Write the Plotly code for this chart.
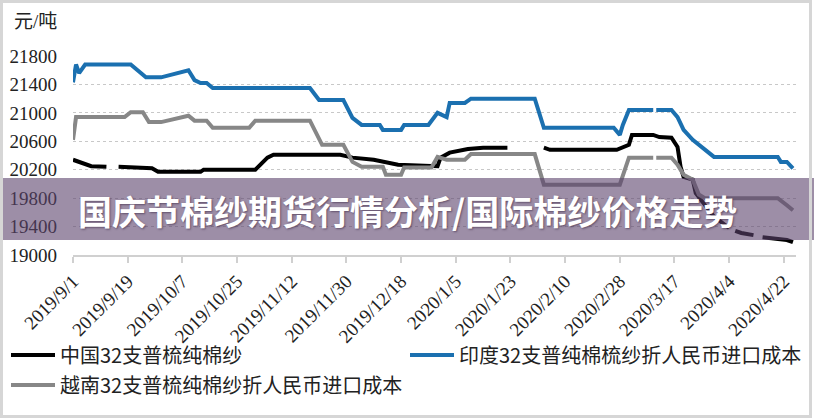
import plotly.graph_objects as go

# ---------------- data ----------------
china_dates = ["2019-09-01","2019-09-07","2019-09-12","2019-09-14","2019-09-16","2019-09-27","2019-09-29",
               "2019-10-13","2019-10-14","2019-10-31","2019-11-04","2019-11-06","2019-11-28","2019-12-02",
               "2019-12-09","2019-12-13","2019-12-17","2019-12-30","2019-12-31","2020-01-03","2020-01-09",
               "2020-01-14","2020-01-22","2020-01-27","2020-02-03","2020-02-05","2020-02-27","2020-03-02",
               "2020-03-03","2020-03-10","2020-03-12","2020-03-16","2020-03-18","2020-03-19","2020-03-20",
               "2020-03-23","2020-03-24","2020-03-30","2020-04-04","2020-04-05","2020-04-06","2020-04-08",
               "2020-04-12","2020-04-13","2020-04-15","2020-04-23","2020-04-25"]
china_values = [20340,20250,20240,None,20240,20220,20170,
                20170,20200,20200,20370,20410,20410,20370,
                20340,20300,20270,20250,20370,20440,20490,
                20510,20510,None,20510,20480,20480,20550,
                20690,20690,20660,20650,20520,20240,20100,
                20060,19870,19540,19380,None,19340,19310,
                19280,None,19250,19210,19180]

india_dates = ["2019-09-01","2019-09-02","2019-09-03","2019-09-05","2019-09-20","2019-09-23","2019-09-25",
               "2019-09-30","2019-10-08","2019-10-09","2019-10-11","2019-10-13","2019-10-15","2019-10-17",
               "2019-11-18","2019-11-20","2019-11-21","2019-11-29","2019-12-02","2019-12-05","2019-12-11",
               "2019-12-12","2019-12-18","2019-12-19","2019-12-27","2019-12-30","2020-01-02","2020-01-03",
               "2020-01-08","2020-01-10","2020-01-31","2020-02-03","2020-02-26","2020-02-28","2020-02-29",
               "2020-03-02","2020-03-10","2020-03-10 12:00","2020-03-11","2020-03-16","2020-03-18",
               "2020-03-20","2020-03-23","2020-03-25","2020-03-28","2020-03-30","2020-04-20","2020-04-21",
               "2020-04-23","2020-04-25"]
india_values = [21430,21680,21560,21680,21680,21580,21500,
                21500,21600,21600,21460,21420,21420,21350,
                21350,21250,21180,21180,20930,20830,20830,
                20760,20760,20830,20830,21000,20940,21140,
                21140,21200,21200,20790,20790,20690,20830,
                21040,21040,None,21040,21040,20940,
                20760,20620,20550,20450,20380,20380,20310,
                20310,20220]

vietnam_dates = ["2019-09-01","2019-09-02","2019-09-18","2019-09-20","2019-09-24","2019-09-26","2019-09-30",
                 "2019-10-09","2019-10-11","2019-10-15","2019-10-17","2019-10-29","2019-10-31","2019-11-18",
                 "2019-11-22","2019-11-29","2019-12-02","2019-12-05","2019-12-12","2019-12-13","2019-12-18",
                 "2019-12-19","2019-12-28","2019-12-30","2020-01-02","2020-01-08","2020-01-10","2020-01-31",
                 "2020-02-03","2020-02-28","2020-03-02","2020-03-10","2020-03-10 12:00","2020-03-11",
                 "2020-03-16","2020-03-18","2020-03-20","2020-03-23","2020-03-25","2020-03-27","2020-04-20",
                 "2020-04-23","2020-04-25"]
vietnam_values = [20620,20940,20940,21010,21010,20870,20870,
                  20960,20890,20890,20790,20790,20890,20890,
                  20550,20550,20310,20240,20240,20130,20130,
                  20230,20230,20380,20340,20340,20420,20420,
                  19990,19990,20370,20370,None,20370,
                  20370,20270,20130,20060,19850,19800,19800,
                  19700,19630]

series_names = ["中国32支普梳纯棉纱", "印度32支普纯棉梳纱折人民币进口成本", "越南32支普梳纯棉纱折人民币进口成本"]

tick_dates = ["2019-09-01","2019-09-19","2019-10-07","2019-10-25","2019-11-12","2019-11-30","2019-12-18",
              "2020-01-05","2020-01-23","2020-02-10","2020-02-28","2020-03-17","2020-04-04","2020-04-22"]
tick_labels = ["2019/9/1","2019/9/19","2019/10/7","2019/10/25","2019/11/12","2019/11/30","2019/12/18",
               "2020/1/5","2020/1/23","2020/2/10","2020/2/28","2020/3/17","2020/4/4","2020/4/22"]
y_ticks = [19000,19400,19800,20200,20600,21000,21400,21800]
y_tick_labels = ["19000","19400","19800","20200","20600","21000","21400","21800"]

unit_label = "元/吨"
banner_text = "国庆节棉纱期货行情分析/国际棉纱价格走势"

# ---------------- layout geometry ----------------
W, H = 814, 418
ML, MR, MT, MB = 73, 18, 56, 163
PW, PH = W - ML - MR, H - MT - MB

def px(x):
    return (x - ML) / PW

def py(y):
    return (H - MB - y) / PH

SERIF = "Liberation Serif, Noto Sans CJK SC, serif"
CJK = "Noto Sans CJK SC, sans-serif"

fig = go.Figure()
colors = ["#000000", "#1b70b0", "#878787"]
legends = ["legend", "legend2", "legend3"]
for name, d, v, c, lg in zip(series_names,
                             [china_dates, india_dates, vietnam_dates],
                             [china_values, india_values, vietnam_values],
                             colors, legends):
    fig.add_trace(go.Scatter(x=d, y=v, mode="lines", name=name, connectgaps=False,
                             line=dict(color=c, width=4), legend=lg))

legend_common = dict(orientation="h", xref="container", yref="container", xanchor="left",
                     yanchor="middle", bgcolor="rgba(0,0,0,0)", borderwidth=0, itemwidth=44,
                     font=dict(family=CJK, size=20, color="#222222"))

fig.update_layout(
    width=W, height=H,
    margin=dict(l=ML, r=MR, t=MT, b=MB, autoexpand=False),
    paper_bgcolor="white", plot_bgcolor="white",
    showlegend=True,
    legend=dict(x=6 / W, y=1 - 355 / H, **legend_common),
    legend2=dict(x=405 / W, y=1 - 355 / H, **legend_common),
    legend3=dict(x=6 / W, y=1 - 385 / H, **legend_common),
    xaxis=dict(type="date", range=["2019-09-01", "2020-04-26"], automargin=False,
               tickmode="array", tickvals=tick_dates, ticktext=tick_labels,
               tickangle=-45, tickfont=dict(family=SERIF, size=19, color="#222222"),
               showgrid=False, showline=True, linecolor="#d0d0d0", linewidth=1.5,
               ticks="outside", ticklen=6, tickcolor="#d0d0d0", tickwidth=1.5,
               zeroline=False, fixedrange=True),
    yaxis=dict(range=[19000, 21800], tickmode="array", tickvals=y_ticks, ticktext=y_tick_labels,
               automargin=False,
               tickfont=dict(family=SERIF, size=19, color="#222222"),
               showgrid=True, gridcolor="#c8c8c8", gridwidth=1, griddash="dot",
               showline=False, ticks="", zeroline=False, ticklabelstandoff=15,
               fixedrange=True),
)

# unit label
fig.add_annotation(text=unit_label, xref="paper", yref="paper", x=px(12), y=py(21),
                   xanchor="left", yanchor="middle", showarrow=False,
                   font=dict(family=SERIF, size=19, color="#222222"))

# banner overlay
fig.add_shape(type="rect", xref="paper", yref="paper", x0=px(0), x1=px(W), y0=py(240), y1=py(178),
              fillcolor="rgba(92,67,108,0.6)", line=dict(width=0), layer="above")
fig.add_annotation(text="<b>" + banner_text + "</b>", xref="paper", yref="paper", x=px(76), y=py(210),
                   xanchor="left", yanchor="middle", showarrow=False,
                   font=dict(family=CJK, size=34, color="white",
                             shadow="1px 1px 2px rgba(40,20,50,0.5)"))

# outer frame
fig.add_shape(type="rect", xref="paper", yref="paper", x0=px(1.5), x1=px(810.5), y0=py(416.5), y1=py(1.5),
              line=dict(color="#d6d6d6", width=3), fillcolor="rgba(0,0,0,0)", layer="above")

fig.write_html("out.html")
